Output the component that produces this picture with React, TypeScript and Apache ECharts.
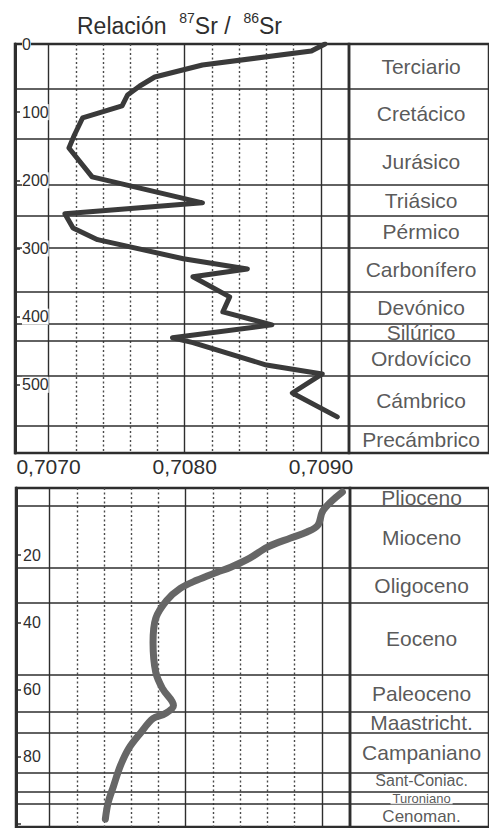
import React, { useEffect, useRef } from 'react';
import * as echarts from 'echarts';

// Sr-isotope ratio axis
const xTickLabels = [0.707, 0.708, 0.709];
const majorGrid = [0.707, 0.708, 0.709];
const minorGrid = [0.7072, 0.7074, 0.7076, 0.7078, 0.7082, 0.7084, 0.7086, 0.7088];

// Phanerozoic curve (age Ma, 87Sr/86Sr)
const phanAges = [0, 10.3, 30.8, 48.4, 61.6, 74.8, 90.9, 108.5, 133.5, 152.5, 195, 233, 249, 270, 287, 315, 330, 341.5, 371, 393, 412, 431, 438, 471, 484, 512, 547];
const phanRatio = [0.70903, 0.70893, 0.70813, 0.70778, 0.70767, 0.70758, 0.70754, 0.70725, 0.70719, 0.70715, 0.70732, 0.70813, 0.70712, 0.70718, 0.70736, 0.70799, 0.70846, 0.70806, 0.70833, 0.70828, 0.70864, 0.70791, 0.70806, 0.70860, 0.70901, 0.70879, 0.70912];

// Periods
const periodNames = ['Terciario', 'Cretácico', 'Jurásico', 'Triásico', 'Pérmico', 'Carbonífero', 'Devónico', 'Silúrico', 'Ordovícico', 'Cámbrico', 'Precámbrico'];
const periodStarts = [0, 66, 138.5, 206, 252, 299, 363, 410.5, 436, 486, 560];
const periodEndAge = 600;

// Cenozoic / Late Cretaceous curve
const cenoAges = [1.2, 6.6, 11.1, 13.1, 14.9, 17.6, 20.9, 23.6, 25.1, 27.5, 29.9, 33.5, 38.8, 46.0, 54.9, 59.8, 64.8, 67.2, 68.7, 72.9, 77.7, 82.8, 88.8, 93.8, 98.6];
const cenoRatio = [0.70915, 0.70901, 0.70897, 0.70889, 0.70877, 0.70860, 0.70847, 0.70833, 0.70823, 0.70808, 0.70796, 0.70786, 0.70778, 0.70776, 0.70778, 0.70783, 0.70791, 0.70785, 0.70776, 0.70767, 0.70758, 0.70752, 0.70747, 0.70743, 0.70741];

// Epochs / stages
const epochNames = ['Plioceno', 'Mioceno', 'Oligoceno', 'Eoceno', 'Paleoceno', 'Maastricht.', 'Campaniano', 'Sant-Coniac.', 'Turoniano', 'Cenoman.'];
const epochStarts = [0, 5.4, 23.9, 34.1, 55.6, 66.6, 72.9, 84.9, 90.5, 94.1];
const epochEndAge = 101;

const topAgeTicks = [0, 100, 200, 300, 400, 500];
const bottomAgeTicks = [20, 40, 60, 80];

const FONT = '"Liberation Sans", Arial, Helvetica, sans-serif';
const INK = '#2e2e2e';
const X_MIN = 0.706754;
const X_MAX = 0.709206;

function mids(starts: number[], end: number) {
  return starts.map((s, i) => (s + (i + 1 < starts.length ? starts[i + 1] : end)) / 2);
}

function gridMarkLines(boundaries: number[]) {
  return [
    ...majorGrid.map((v) => ({ xAxis: v, lineStyle: { type: 'solid', width: 1.4, color: INK } })),
    ...minorGrid.map((v) => ({ xAxis: v, lineStyle: { type: [2, 2.5], width: 1.4, color: '#4a4a4a' } })),
    ...boundaries.map((a) => ({ yAxis: a, lineStyle: { type: 'solid', width: 1.6, color: INK } })),
  ];
}

function boundaryLines(boundaries: number[]) {
  return boundaries.map((a) => ({ yAxis: a, lineStyle: { type: 'solid', width: 1.6, color: INK } }));
}

// per-label adjustments for the crowded / line-crossed labels
const labelTweaks: Record<string, any> = {
  'Silúrico': { backgroundColor: '#fff', lineHeight: 15, padding: [0, 2] },
  'Sant-Coniac.': { fontSize: 16, lineHeight: 14, offset: [0, -2] },
  'Turoniano': { fontSize: 13, backgroundColor: '#fff', lineHeight: 11, padding: [0, 2], offset: [0, 1] },
  'Cenoman.': { fontSize: 17, lineHeight: 15, offset: [0, 1] },
};

function labelData(names: string[], starts: number[], end: number) {
  const m = mids(starts, end);
  return names.map((n, i) => ({
    name: n,
    value: [0.515, m[i]],
    label: labelTweaks[n],
  }));
}

function markLineBase(data: any[]) {
  return {
    silent: true, symbol: ['none', 'none'], label: { show: false }, z: 1, animation: false,
    precision: 8,
    data,
  };
}

function buildOption(): any {
  const xFmt = (v: number) => v.toFixed(4).replace('.', ',');
  const plotGrid = { show: true, borderColor: INK, borderWidth: 2.5, backgroundColor: 'transparent' };
  const hiddenX = { type: 'value', min: 0, max: 1, show: false };
  const yAxisStyle = {
    axisLine: { show: true, lineStyle: { color: INK, width: 3 } },
    axisTick: { show: true, inside: true, length: 5, lineStyle: { color: INK, width: 1.5 } },
    splitLine: { show: false },
  };
  const periodLabel = { show: true, position: 'inside', formatter: '{b}', fontSize: 21, color: INK, fontFamily: FONT };
  return {
    animation: false,
    backgroundColor: '#ffffff',
    title: {
      text: 'Relación  {s|87}Sr /  {s|86}Sr',
      left: 72,
      top: 6,
      textStyle: {
        fontSize: 23,
        fontWeight: 'normal',
        color: INK,
        fontFamily: FONT,
        lineHeight: 30,
        rich: {
          s: { fontSize: 14, fontFamily: FONT, color: INK, verticalAlign: 'top', lineHeight: 16 },
        },
      },
    },
    grid: [
      { left: 15, top: 44, width: 334, height: 409, ...plotGrid },
      { left: 349, top: 44, width: 144, height: 409, ...plotGrid },
      { left: 16, top: 488, width: 334, height: 339, ...plotGrid },
      { left: 350, top: 488, width: 143, height: 339, ...plotGrid },
    ],
    xAxis: [
      {
        gridIndex: 0, type: 'value', min: X_MIN, max: X_MAX,
        axisLine: { show: false }, axisTick: { show: false }, splitLine: { show: false },
        axisLabel: {
          show: true, customValues: xTickLabels, formatter: xFmt,
          fontSize: 21, color: INK, fontFamily: FONT, margin: 3,
        },
      },
      { gridIndex: 1, ...hiddenX },
      {
        gridIndex: 2, type: 'value', min: X_MIN, max: X_MAX,
        axisLine: { show: false }, axisTick: { show: false }, splitLine: { show: false },
        axisLabel: { show: false },
      },
      { gridIndex: 3, ...hiddenX },
    ],
    yAxis: [
      {
        gridIndex: 0, type: 'value', inverse: true, min: 0, max: 600, interval: 100, z: 10,
        ...yAxisStyle,
        axisLabel: {
          show: true, inside: true, margin: 7, fontSize: 16, color: INK, fontFamily: FONT,
          backgroundColor: '#fff',
          formatter: (v: number) => (topAgeTicks.includes(v) ? String(v) : ''),
        },
      },
      { gridIndex: 1, type: 'value', inverse: true, min: 0, max: 600, show: false },
      {
        gridIndex: 2, type: 'value', inverse: true, min: 0, max: 101, interval: 20, z: 10,
        ...yAxisStyle,
        axisLabel: {
          show: true, inside: true, margin: 7, fontSize: 16, color: INK, fontFamily: FONT,
          backgroundColor: '#fff',
          formatter: (v: number) => (bottomAgeTicks.includes(v) ? String(v) : ''),
        },
      },
      { gridIndex: 3, type: 'value', inverse: true, min: 0, max: 101, show: false },
    ],
    series: [
      {
        type: 'line', xAxisIndex: 0, yAxisIndex: 0, data: [], silent: true,
        markLine: markLineBase(gridMarkLines(periodStarts.slice(1))),
      },
      {
        type: 'line', xAxisIndex: 2, yAxisIndex: 2, data: [], silent: true,
        markLine: markLineBase(gridMarkLines(epochStarts.slice(1))),
      },
      {
        type: 'scatter', xAxisIndex: 1, yAxisIndex: 1, symbolSize: 1, silent: true,
        itemStyle: { color: 'rgba(0,0,0,0)' },
        label: periodLabel,
        data: labelData(periodNames, periodStarts, periodEndAge),
        markLine: markLineBase(boundaryLines(periodStarts.slice(1))),
        z: 4,
      },
      {
        type: 'scatter', xAxisIndex: 3, yAxisIndex: 3, symbolSize: 1, silent: true,
        itemStyle: { color: 'rgba(0,0,0,0)' },
        label: periodLabel,
        data: labelData(epochNames, epochStarts, epochEndAge),
        markLine: markLineBase(boundaryLines(epochStarts.slice(1))),
        z: 4,
      },
      {
        type: 'line', xAxisIndex: 0, yAxisIndex: 0, showSymbol: false, silent: true, z: 3,
        lineStyle: { color: '#3a3a3a', width: 5, cap: 'round', join: 'round' },
        data: phanAges.map((a, i) => [phanRatio[i], a]),
      },
      {
        type: 'line', xAxisIndex: 2, yAxisIndex: 2, showSymbol: false, silent: true, z: 3, smooth: 0.35,
        lineStyle: { color: '#666666', width: 7, cap: 'round', join: 'round' },
        data: cenoAges.map((a, i) => [cenoRatio[i], a]),
      },
    ],
  };
}

export default function App() {
  const ref = useRef<HTMLDivElement>(null);
  useEffect(() => {
    if (!ref.current) return;
    const chart = echarts.init(ref.current, null, { renderer: 'svg' });
    chart.setOption(buildOption());
    return () => chart.dispose();
  }, []);
  return (
    <div
      ref={ref}
      style={{ position: 'fixed', left: 0, top: 0, width: 489, height: 828, background: '#fff' }}
    />
  );
}
